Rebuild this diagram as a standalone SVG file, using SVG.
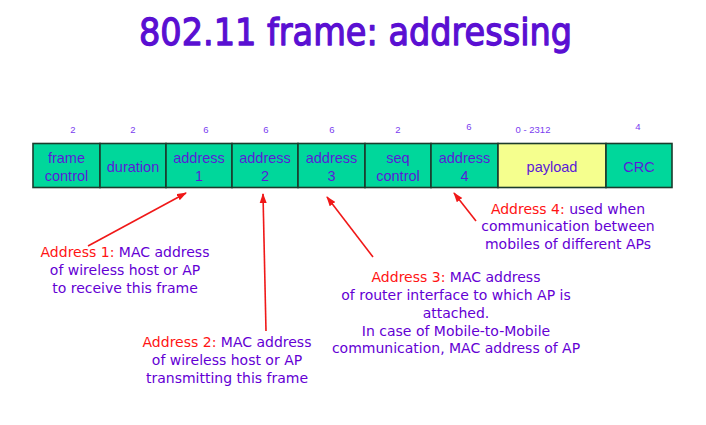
<svg xmlns="http://www.w3.org/2000/svg" width="706" height="425" viewBox="0 0 706 425">
  <style>
    .title { font-family: "DejaVu Sans", "Liberation Sans", sans-serif; font-size: 38px; fill: #5a0fd2; stroke: #5a0fd2; stroke-width: 1.3; stroke-linejoin: round; }
    .cell { fill: #00d79b; stroke: #1b3b2c; stroke-width: 1.6; }
    .cell.pay { fill: #f5ff8e; }
    .lbl { font-family: "Liberation Sans", Arial, sans-serif; font-size: 14.5px; fill: #5a1ad8; text-anchor: middle; }
    .num { font-family: "Liberation Sans", Arial, sans-serif; font-size: 9.5px; fill: #7a3cf0; text-anchor: middle; }
    .note { font-family: "DejaVu Sans", "Liberation Sans", sans-serif; font-size: 14px; fill: #6400d4; text-anchor: middle; }
    .red { fill: #ff1414; }
    .conn line { stroke: #f01818; stroke-width: 1.6; marker-end: url(#head); }
  </style>
  <defs>
    <marker id="head" markerUnits="userSpaceOnUse" markerWidth="10" markerHeight="8" refX="9" refY="4" orient="auto">
      <path d="M0,0.5 L10,4 L0,7.5 z" fill="#f01818"/>
    </marker>
  </defs>

  <rect width="706" height="425" fill="#ffffff"/>

  <text class="title" x="139" y="45" textLength="433" lengthAdjust="spacingAndGlyphs">802.11 frame: addressing</text>

  <!-- field sizes in bytes -->
  <g id="sizes">
    <text class="num" x="73" y="133">2</text>
    <text class="num" x="133" y="133">2</text>
    <text class="num" x="206" y="133">6</text>
    <text class="num" x="266" y="133">6</text>
    <text class="num" x="332" y="133">6</text>
    <text class="num" x="398" y="133">2</text>
    <text class="num" x="469" y="130">6</text>
    <text class="num" x="533" y="133">0 - 2312</text>
    <text class="num" x="638" y="130">4</text>
  </g>

  <!-- frame fields -->
  <g id="frame-control">
    <rect class="cell" x="33" y="143.5" width="67" height="44"/>
    <text class="lbl" x="66.5" y="163">frame</text>
    <text class="lbl" x="66.5" y="181">control</text>
  </g>
  <g id="duration">
    <rect class="cell" x="100" y="143.5" width="66" height="44"/>
    <text class="lbl" x="133" y="172">duration</text>
  </g>
  <g id="address1">
    <rect class="cell" x="166" y="143.5" width="66" height="44"/>
    <text class="lbl" x="199" y="163">address</text>
    <text class="lbl" x="199" y="181">1</text>
  </g>
  <g id="address2">
    <rect class="cell" x="232" y="143.5" width="66" height="44"/>
    <text class="lbl" x="265" y="163">address</text>
    <text class="lbl" x="265" y="181">2</text>
  </g>
  <g id="address3">
    <rect class="cell" x="298" y="143.5" width="67" height="44"/>
    <text class="lbl" x="331.5" y="163">address</text>
    <text class="lbl" x="331.5" y="181">3</text>
  </g>
  <g id="seq-control">
    <rect class="cell" x="365" y="143.5" width="66" height="44"/>
    <text class="lbl" x="398" y="163">seq</text>
    <text class="lbl" x="398" y="181">control</text>
  </g>
  <g id="address4">
    <rect class="cell" x="431" y="143.5" width="67" height="44"/>
    <text class="lbl" x="464.5" y="163">address</text>
    <text class="lbl" x="464.5" y="181">4</text>
  </g>
  <g id="payload">
    <rect class="cell pay" x="498" y="143.5" width="108" height="44"/>
    <text class="lbl" x="552" y="172">payload</text>
  </g>
  <g id="crc">
    <rect class="cell" x="606" y="143.5" width="66" height="44"/>
    <text class="lbl" x="639" y="172">CRC</text>
  </g>

  <!-- pointers from notes to fields -->
  <g class="conn" id="connectors">
    <line x1="88" y1="246" x2="186" y2="193"/>
    <line x1="266" y1="331" x2="263" y2="194"/>
    <line x1="373" y1="257" x2="327" y2="197"/>
    <line x1="476" y1="221" x2="454" y2="193"/>
  </g>

  <g id="note-address1">
    <text class="note" x="125" y="257"><tspan class="red">Address 1:</tspan> MAC address</text>
    <text class="note" x="125" y="275">of wireless host or AP</text>
    <text class="note" x="125" y="293">to receive this frame</text>
  </g>
  <g id="note-address2">
    <text class="note" x="227" y="347"><tspan class="red">Address 2:</tspan> MAC address</text>
    <text class="note" x="227" y="365">of wireless host or AP</text>
    <text class="note" x="227" y="383">transmitting this frame</text>
  </g>
  <g id="note-address3">
    <text class="note" x="456" y="282"><tspan class="red">Address 3:</tspan> MAC address</text>
    <text class="note" x="456" y="300">of router interface to which AP is</text>
    <text class="note" x="456" y="318">attached.</text>
    <text class="note" x="456" y="336">In case of Mobile-to-Mobile</text>
    <text class="note" x="456" y="353">communication, MAC address of AP</text>
  </g>
  <g id="note-address4">
    <text class="note" x="568" y="214"><tspan class="red">Address 4:</tspan> used when</text>
    <text class="note" x="568" y="231">communication between</text>
    <text class="note" x="568" y="249">mobiles of different APs</text>
  </g>
</svg>
